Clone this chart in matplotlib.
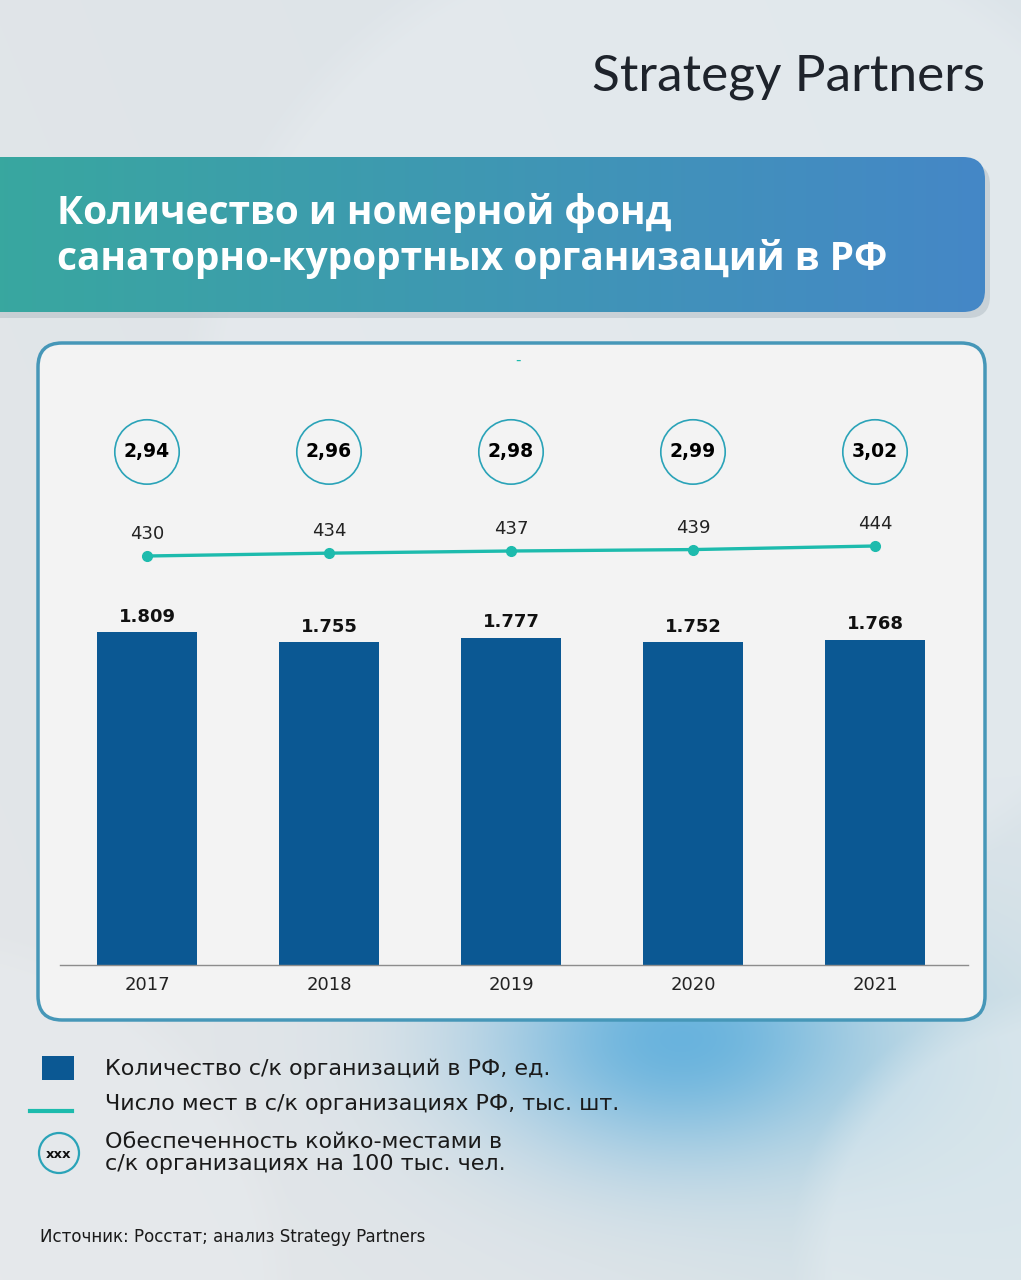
import numpy as np
import matplotlib
matplotlib.use('Agg')
import matplotlib.pyplot as plt
from matplotlib.patches import FancyBboxPatch, Rectangle, Circle
from matplotlib.transforms import blended_transform_factory

# данные
years = ['2017', '2018', '2019', '2020', '2021']
orgs = [1809, 1755, 1777, 1752, 1768]          # количество с/к организаций, ед.
beds = [430, 434, 437, 439, 444]               # число мест, тыс. шт.
beds_per_100k = [2.94, 2.96, 2.98, 2.99, 3.02]  # обеспеченность на 100 тыс. чел.

legend_labels = ['Количество с/к организаций в РФ, ед.',
                 'Число мест в с/к организациях РФ, тыс. шт.',
                 'Обеспеченность койко-местами в\nс/к организациях на 100 тыс. чел.']
title = 'Количество и номерной фонд\nсанаторно-курортных организаций в РФ'
source = 'Источник: Росстат; анализ Strategy Partners'

BAR_COLOR = '#0b5893'
LINE_COLOR = '#1dbbad'
CIRCLE_COLOR = '#2aa3b8'

W, H = 1021, 1280
fig = plt.figure(figsize=(W / 100, H / 100), dpi=100)

# фон в пиксельных координатах
bg = fig.add_axes([0, 0, 1, 1])
bg.set_xlim(0, W)
bg.set_ylim(H, 0)
bg.set_aspect('auto')
bg.axis('off')

yy, xx = np.mgrid[0:H, 0:W]
base = np.array([0.89, 0.90, 0.91])
img = np.ones((H, W, 3)) * base
# голубоватый оттенок справа сверху
t = np.clip((xx / W) * 0.8 + (1 - yy / H) * 0.4, 0, 1)[..., None]
img = img * (1 - t * 0.5) + np.array([0.84, 0.89, 0.92]) * t * 0.5
# синее пятно внизу
d = np.sqrt(((xx - 690) / 200.0) ** 2 + ((yy - 1040) / 120.0) ** 2)
b = np.exp(-d ** 2)[..., None] * 0.75
img = img * (1 - b) + np.array([0.22, 0.62, 0.85]) * b
# мягкий голубой справа снизу
d2 = np.sqrt(((xx - 1000) / 300.0) ** 2 + ((yy - 1150) / 250.0) ** 2)
b2 = np.exp(-d2 ** 2)[..., None] * 0.35
img = img * (1 - b2) + np.array([0.70, 0.84, 0.88]) * b2
# светлые дуги
for cx, cy, r, a in [(700, 420, 520, 0.25), (-80, 1300, 380, 0.2), (1050, 1250, 260, 0.3)]:
    dd = np.sqrt((xx - cx) ** 2 + (yy - cy) ** 2)
    m = (np.clip((r - dd) / 40.0, 0, 1) * a)[..., None]
    img = img * (1 - m) + np.array([0.95, 0.96, 0.97]) * m
bg.imshow(np.clip(img, 0, 1), extent=(0, W, H, 0), zorder=0, aspect='auto')

# логотип
bg.text(985, 77, 'Strategy Partners', fontsize=37, family='Lato', color='#1e232b',
        ha='right', va='center', zorder=3)

# заголовок с градиентом
shadow = FancyBboxPatch((-40, 163), 1030, 155, boxstyle='round,pad=0,rounding_size=22',
                        facecolor='#9aa8b0', edgecolor='none', alpha=0.35, zorder=1)
bg.add_patch(shadow)
banner = FancyBboxPatch((-40, 157), 1025, 155, boxstyle='round,pad=0,rounding_size=22',
                        facecolor='none', edgecolor='none', zorder=2)
bg.add_patch(banner)
grad = np.linspace(0, 1, 256)[None, :, None]
c1 = np.array([0.22, 0.66, 0.62])
c2 = np.array([0.27, 0.53, 0.78])
gimg = c1 * (1 - grad) + c2 * grad
gim = bg.imshow(np.repeat(gimg, 2, axis=0), extent=(-40, 985, 312, 157), zorder=2, aspect='auto')
gim.set_clip_path(banner)
bg.text(57, 236, title, fontsize=28, family='Open Sans', weight='bold', color='white',
        ha='left', va='center', linespacing=1.18, zorder=3)

# панель графика
panel = FancyBboxPatch((38, 343), 947, 677, boxstyle='round,pad=0,rounding_size=24',
                       facecolor='#f3f3f3', edgecolor='#4697b8', linewidth=2.5, zorder=2)
bg.add_patch(panel)
bg.text(518, 360, '-', fontsize=11, color=LINE_COLOR, ha='center', va='center', zorder=3)

# основной график
ax_l, ax_r, ax_top, ax_bot = 60, 968, 380, 965
ax = fig.add_axes([ax_l / W, 1 - ax_bot / H, (ax_r - ax_l) / W, (ax_bot - ax_top) / H])
ax.patch.set_visible(False)
x = np.arange(len(years))
ax.bar(x, orgs, width=0.55, color=BAR_COLOR, zorder=2)
ax.set_xlim(-0.478, 4.511)
ax.set_ylim(0, 3178)
for xi, v in zip(x, orgs):
    ax.text(xi, v + 35, f'{v:,}'.replace(',', '.'), ha='center', va='bottom',
            fontsize=13, weight='bold', color='#111111')
ax.set_xticks(x)
ax.set_xticklabels(years, fontsize=13, color='#222222')
ax.tick_params(axis='x', length=0, pad=8)
ax.set_yticks([])
for s in ['top', 'left', 'right']:
    ax.spines[s].set_visible(False)
ax.spines['bottom'].set_color('#8c8c8c')
ax.spines['bottom'].set_linewidth(1)

# линия мест
ax2 = ax.twinx()
ax2.plot(x, beds, color=LINE_COLOR, lw=2.4, marker='o', markersize=7, zorder=3)
ax2.set_ylim(-142.6, 676.4)
ax2.axis('off')
for xi, v in zip(x, beds):
    ax2.text(xi, v + 18, str(v), ha='center', va='bottom', fontsize=13, color='#222222')

# кружки обеспеченности
tr = blended_transform_factory(ax.transData, ax.transAxes)
ax.scatter(x, [0.877] * len(x), s=2150, facecolors='none', edgecolors=CIRCLE_COLOR,
           linewidths=1.2, transform=tr, clip_on=False, zorder=3)
for xi, v in zip(x, beds_per_100k):
    ax.text(xi, 0.877, f'{v:.2f}'.replace('.', ','), transform=tr, ha='center', va='center',
            fontsize=13.5, weight='bold', color='#000000')

# легенда
bg.add_patch(Rectangle((42, 1056), 32, 24, facecolor=BAR_COLOR, edgecolor='none', zorder=3))
bg.plot([30, 72], [1111, 1111], color=LINE_COLOR, lw=3, zorder=3)
bg.add_patch(Circle((59, 1153), 20, facecolor='none', edgecolor=CIRCLE_COLOR, lw=1.6, zorder=3))
bg.text(59, 1154, 'xxx', fontsize=9.5, weight='bold', ha='center', va='center', color='#111111', zorder=3)
bg.text(105, 1069, legend_labels[0], fontsize=16, color='#1a1a1a', va='center', zorder=3)
bg.text(105, 1104, legend_labels[1], fontsize=16, color='#1a1a1a', va='center', zorder=3)
bg.text(105, 1153, legend_labels[2], fontsize=16, color='#1a1a1a', va='center',
        linespacing=1.15, zorder=3)

bg.text(40, 1237, source, fontsize=12, color='#1a1a1a', va='center', zorder=3)

fig.savefig('out.png', dpi=100)
